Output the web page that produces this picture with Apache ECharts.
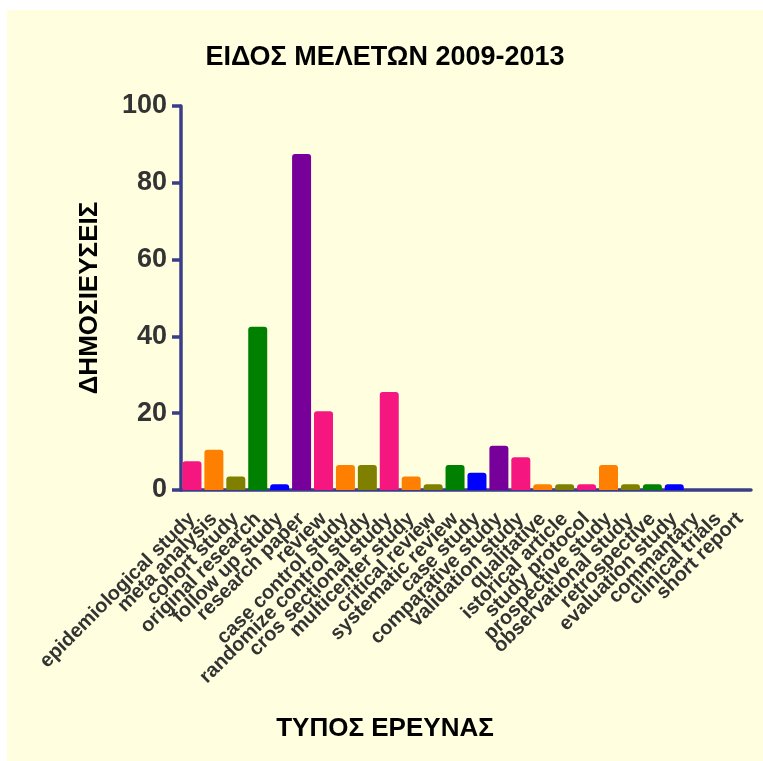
<!DOCTYPE html>
<html>
<head>
<meta charset="utf-8">
<script src="https://cdn.jsdelivr.net/npm/echarts@6/dist/echarts.min.js"></script>
<style>
  html, body { margin: 0; padding: 0; background: #ffffff; }
  #main { position: absolute; left: 7px; top: 10px; width: 756px; height: 751px; }
</style>
</head>
<body>
<div id="main"></div>
<script>
// κατηγορίες (άξονας x)
const categories = [
  'epidemiological study', 'meta analysis', 'cohort study', 'original research',
  'follow up study', 'research paper', 'review', 'case control study',
  'randomize control study', 'cros sectional study', 'multicenter study',
  'critical review', 'systematic review', 'case study', 'comparative study',
  'validation study', 'qualitative', 'istorical article', 'study protocol',
  'prospective study', 'observational study', 'retrospective', 'evaluation study',
  'commantary', 'clinical trials', 'short report'
];
// δημοσιεύσεις ανά τύπο
const values = [
  7.5, 10.5, 3.5, 42.5, 1.5, 87.5, 20.5, 6.5, 6.5, 25.5, 3.5, 1.5, 6.5,
  4.5, 11.5, 8.5, 1.5, 1.5, 1.5, 6.5, 1.5, 1.5, 1.5, 0, 0, 0
];
const barColors = [
  '#f5177f', '#ff8000', '#808000', '#008000', '#0000ff', '#78009a',
  '#f5177f', '#ff8000', '#808000', '#f5177f', '#ff8000', '#808000',
  '#008000', '#0000ff', '#78009a', '#f5177f', '#ff8000', '#808000',
  '#f5177f', '#ff8000', '#808000', '#008000', '#0000ff',
  '#78009a', '#f5177f', '#ff8000'
];
const yTicks = [0, 20, 40, 60, 80, 100];

const axisColor = '#3a3e88';
const font = 'Arial, "Liberation Sans", sans-serif';

let myChart = echarts.init(document.getElementById('main'));
let option = {
  backgroundColor: '#ffffe0',
  animation: false,
  title: [
    {
      text: 'ΕΙΔΟΣ ΜΕΛΕΤΩΝ 2009-2013',
      left: 'center',
      top: 29,
      textStyle: { fontFamily: font, fontSize: 27, fontWeight: 'bold', color: '#000' }
    },
    {
      text: 'ΤΥΠΟΣ ΕΡΕΥΝΑΣ',
      left: 'center',
      top: 701,
      textStyle: { fontFamily: font, fontSize: 26, fontWeight: 'bold', color: '#000' }
    }
  ],
  grid: { left: 174, top: 96, right: 12, bottom: 271, containLabel: false },
  xAxis: {
    type: 'category',
    data: categories,
    axisLine: { lineStyle: { color: axisColor, width: 3.5 } },
    axisTick: { alignWithLabel: true, length: 9, lineStyle: { color: axisColor, width: 3.5 } },
    axisLabel: {
      rotate: 45,
      interval: 0,
      margin: 26,
      fontFamily: font,
      fontSize: 20,
      fontWeight: 'bold',
      color: '#333'
    }
  },
  yAxis: {
    type: 'value',
    min: yTicks[0],
    max: yTicks[yTicks.length - 1],
    interval: 20,
    name: 'ΔΗΜΟΣΙΕΥΣΕΙΣ',
    nameLocation: 'middle',
    nameGap: 78,
    nameTextStyle: { fontFamily: font, fontSize: 26, fontWeight: 'bold', color: '#000' },
    splitLine: { show: false },
    axisLine: { show: true, lineStyle: { color: axisColor, width: 3.5 } },
    axisTick: { show: true, length: 9, lineStyle: { color: axisColor, width: 3.5 } },
    axisLabel: {
      margin: 14,
      fontFamily: font,
      fontSize: 27,
      fontWeight: 'bold',
      color: '#333'
    }
  },
  series: [
    {
      type: 'bar',
      barWidth: 19,
      data: values.map((v, i) => ({
        value: v,
        itemStyle: { color: barColors[i] }
      })),
      itemStyle: {
        borderRadius: [3, 3, 0, 0]
      }
    }
  ]
};
myChart.setOption(option);
window.onresize = function () {
  myChart.resize();
};
</script>
</body>
</html>
